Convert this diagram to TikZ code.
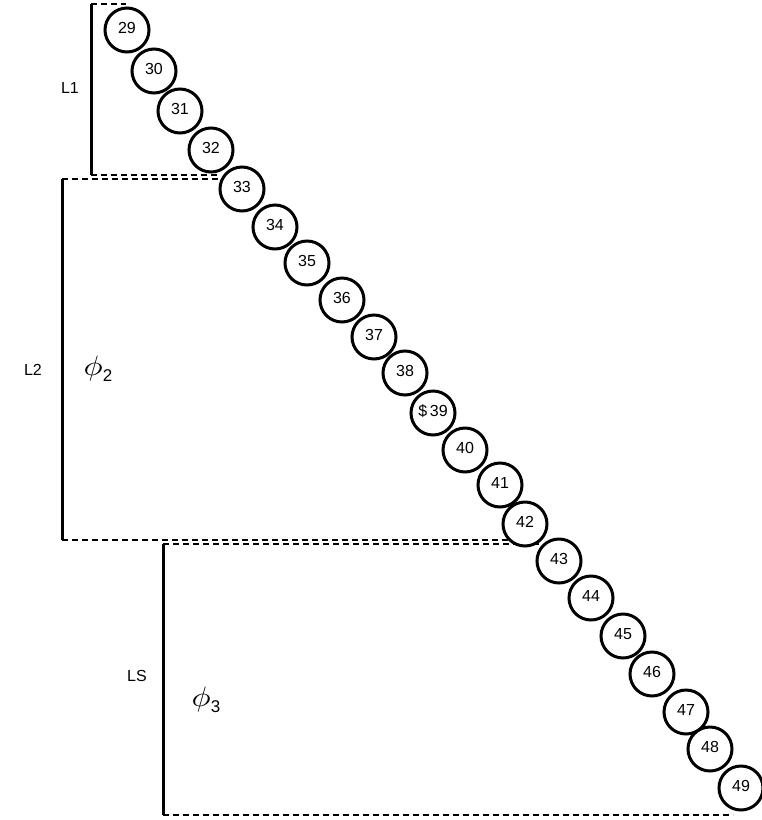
\documentclass[tikz,border=0pt]{standalone}
\usepackage{amsmath}
\usepackage{graphicx}
\usepackage{fontspec}
\setmainfont{Liberation Sans}
\usepackage{tikz}
\usetikzlibrary{positioning}

\newcommand{\phisub}[1]{\scalebox{3.2}[2.8]{$\phi$}\raisebox{-6pt}{\fontsize{17}{18}\selectfont #1}}

\begin{document}
\begin{tikzpicture}[
    x=1pt, y=-1pt,
    beadNode/.style={circle, draw=black, line width=3pt, fill=white, minimum size=44pt, inner sep=0pt,
        font=\fontsize{16}{18}\selectfont, text height=11.5pt, text depth=5pt, align=center},
    lenLabel/.style={font=\fontsize{16}{18}\selectfont},
    phiLabel/.style={inner sep=0pt},
    heightBar/.style={line width=3pt},
    guideLine/.style={line width=1.3pt, dash pattern=on 6pt off 4pt}
]
    \useasboundingbox (0,0) rectangle (762,820);

    % Guide Lines (dashed)
    \coordinate (t1) at (91,4);
    \coordinate (t1e) at (126,4);
    \coordinate (b1) at (91,175);
    \coordinate (b1e) at (220,175);
    \coordinate (t2) at (62,179);
    \coordinate (t2e) at (218,179);
    \coordinate (b2) at (62,540);
    \coordinate (b2e) at (523,540);
    \coordinate (t3) at (163,544);
    \coordinate (t3e) at (540,544);
    \coordinate (b3) at (163,815);
    \coordinate (b3e) at (733,815);

    \draw[guideLine] (t1) -- (t1e);
    \draw[guideLine] (b1) -- (b1e);
    \draw[guideLine] (t2) -- (t2e);
    \draw[guideLine] (b2) -- (b2e);
    \draw[guideLine] (t3) -- (t3e);
    \draw[guideLine] (b3) -- (b3e);

    % Height Bars
    \draw[heightBar] (t1) -- (b1);
    \draw[heightBar] (t2) -- (b2);
    \draw[heightBar] (t3) -- (b3);

    % Labels
    \node[lenLabel] (l1) at (70,88)  {L1};
    \node[lenLabel] (l2) at (33,370) {L2};
    \node[lenLabel] (ls) at (137,676) {LS};
    \node[phiLabel] (phi2) at (98,369) {\phisub{2}};
    \node[phiLabel] (phi3) at (206,700) {\phisub{3}};

    % Beads
    \node[beadNode] (c29) at (127,30)  {29};
    \node[beadNode] (c30) at (154,71)  {30};
    \node[beadNode] (c31) at (180,111) {31};
    \node[beadNode] (c32) at (211,150) {32};
    \node[beadNode] (c33) at (242,189) {33};
    \node[beadNode] (c34) at (275,227) {34};
    \node[beadNode] (c35) at (307,263) {35};
    \node[beadNode] (c36) at (342,300) {36};
    \node[beadNode] (c37) at (374,337) {37};
    \node[beadNode] (c38) at (405,373) {38};
    \node[beadNode] (c39) at (433,413) {\$\,39};
    \node[beadNode] (c40) at (465,450) {40};
    \node[beadNode] (c41) at (500,485) {41};
    \node[beadNode] (c42) at (525,524) {42};
    \node[beadNode] (c43) at (559,561) {43};
    \node[beadNode] (c44) at (591,598) {44};
    \node[beadNode] (c45) at (623,636) {45};
    \node[beadNode] (c46) at (652,674) {46};
    \node[beadNode] (c47) at (686,712) {47};
    \node[beadNode] (c48) at (710,749) {48};
    \node[beadNode] (c49) at (741,788) {49};
\end{tikzpicture}
\end{document}
